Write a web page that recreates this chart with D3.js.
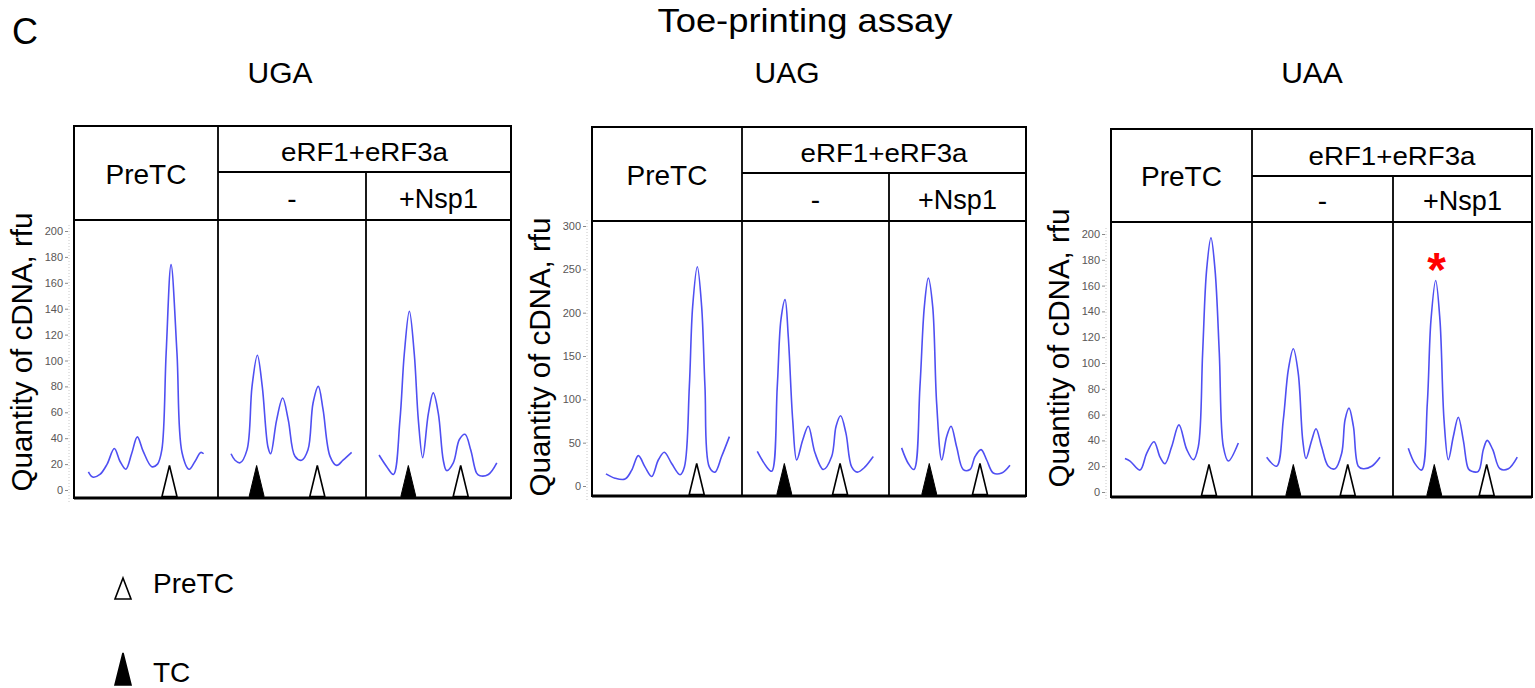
<!DOCTYPE html>
<html>
<head>
<meta charset="utf-8">
<script src="https://cdn.jsdelivr.net/npm/d3@7"></script>
<style>
  body { margin: 0; background: #fff; }
  text { font-family: "Liberation Sans", Arial, sans-serif; }
</style>
</head>
<body>
<div id="chart"></div>
<script>
// codons and lane headers
const codons = ["UGA", "UAG", "UAA"];
const laneLabels = ["PreTC", "-", "+Nsp1"];
const groupLabel = "eRF1+eRF3a";
const yMaxes = [200, 300, 200];
const yTickValues = [
  [0, 20, 40, 60, 80, 100, 120, 140, 160, 180, 200],
  [0, 50, 100, 150, 200, 250, 300],
  [0, 20, 40, 60, 80, 100, 120, 140, 160, 180, 200]
];

// traces: position along the lane (0-100) and quantity (rfu)
const ugaPos = [
  [10, 13, 18, 23, 28, 32, 36, 40, 44, 48, 54, 58, 61, 64, 67.4, 71.5, 75, 80, 84, 88, 90],
  [8.8, 11.5, 14.9, 19.6, 23, 26.6, 29.9, 33.8, 35.6, 39.6, 43.7, 47.5, 52, 56.5, 60.8, 64.2, 67.8, 71, 75.7, 80.2, 84.5, 90.3],
  [9, 14.3, 18.9, 23.4, 26.4, 29.9, 33.3, 36.1, 39.1, 43, 46.4, 49.9, 53.3, 55.6, 60.2, 64.4, 68.3, 72.2, 76.3, 78.6, 84.4, 90.2]
];
const ugaRfu = [
  [14, 10, 12, 20, 32, 22, 16, 28, 41, 30, 18, 20, 31, 106, 174, 106, 29, 16, 22, 29, 28],
  [28, 23, 21, 31, 80, 104, 80, 33, 28, 54, 71, 54, 26, 23, 31, 67, 80, 62, 26, 19, 23, 29],
  [27, 18, 12, 54, 105, 138, 105, 54, 25, 59, 75, 59, 23, 15, 21, 39, 43, 31, 13, 11, 12, 21]
];
const uagPos = [
  [9.3, 15.3, 22, 26.4, 30.9, 35.3, 39.8, 44.2, 48.2, 53.1, 58.7, 61.6, 64.9, 67.1, 70.2, 73.1, 75.3, 78.2, 82, 86.4, 91.6],
  [10.4, 16.8, 20.2, 24, 26.5, 29.3, 31.5, 34.5, 37.2, 41.3, 45.1, 49.7, 55.3, 61, 64, 67.1, 70.7, 74.6, 78.4, 83.7, 89.3],
  [9.2, 14.1, 18.2, 22.6, 25.8, 28.7, 31.9, 34.8, 38.5, 42.1, 45.3, 49.4, 54.2, 59.1, 62.8, 67.2, 71.3, 76.1, 82.3, 88.3]
];
const uagRfu = [
  [14, 9, 8, 18, 35, 22, 11, 30, 39, 26, 13, 22, 115, 207, 253, 207, 115, 22, 16, 34, 57],
  [40, 22, 17, 115, 192, 215, 172, 76, 30, 53, 69, 38, 19, 34, 69, 81, 61, 22, 16, 22, 34],
  [44, 26, 19, 115, 207, 240, 207, 95, 30, 57, 69, 45, 19, 19, 34, 42, 30, 15, 15, 24]
];
const uaaPos = [
  [9.9, 13.5, 20.6, 25.3, 30.5, 34.8, 38.3, 43, 48.2, 53.7, 58.4, 61.9, 65, 67.8, 70.9, 73.8, 76.8, 79.7, 83.2, 90.3],
  [10.4, 17.5, 22.2, 25.8, 29.3, 32.8, 36, 38.3, 42.3, 45.4, 49.4, 54.1, 58.9, 63.6, 66, 68.8, 71.9, 75.4, 78.9, 84.9, 90.8],
  [11, 15.8, 20.6, 24.7, 27.3, 30.7, 33.8, 36.7, 39.8, 43.4, 47, 50.6, 54.2, 56.6, 61.4, 65, 67.8, 71.7, 77, 83, 89.4]
];
const uaaRfu = [
  [26, 24, 17, 30, 39, 27, 22, 35, 52, 33, 25, 35, 108, 172, 197, 172, 108, 35, 24, 38],
  [27, 20, 56, 95, 111, 92, 40, 26, 40, 49, 35, 20, 18, 30, 56, 65, 51, 20, 18, 20, 27],
  [34, 22, 17, 69, 133, 164, 133, 56, 25, 43, 58, 40, 18, 16, 16, 33, 40, 33, 18, 18, 27]
];

// arrowheads: PreTC (open) and TC (filled) positions per lane
const preTCMarks = [[66.3, 67.1, 65.3], [69.8, 66.7, 66.4], [69.5, 67.9, 67.4]];
const tcMarks = [[null, 26.1, 29.2], [null, 28.8, 29.4], [null, 29.3, 29.7]];
const starredLane = [2, 2]; // codon index, lane index

const legendItems = ["PreTC", "TC"];

const tracePos = [ugaPos, uagPos, uaaPos];
const traceRfu = [ugaRfu, uagRfu, uaaRfu];

// frame geometry of the three panels
const frames = [
  { left: 74, right: 511, top: 126, sub: 172, head: 220, bottom: 498, cols: [74, 218, 366, 511], y0: 490, y1: 231, titleX: 280, yLabelY: 352 },
  { left: 592, right: 1026, top: 127, sub: 173, head: 221, bottom: 496, cols: [592, 742, 889, 1026], y0: 486, y1: 226, titleX: 787, yLabelY: 357 },
  { left: 1111, right: 1532, top: 129, sub: 176, head: 222, bottom: 497, cols: [1111, 1252, 1393, 1532], y0: 492, y1: 234, titleX: 1312, yLabelY: 348 }
];

const svg = d3.select("#chart").append("svg")
  .attr("width", 1535)
  .attr("height", 688);

svg.append("text")
  .attr("x", 805).attr("y", 32)
  .attr("text-anchor", "middle")
  .attr("font-size", 34)
  .attr("textLength", 295)
  .attr("lengthAdjust", "spacingAndGlyphs")
  .text("Toe-printing assay");

svg.append("text")
  .attr("x", 12).attr("y", 44)
  .attr("font-size", 36)
  .text("C");

function triangle(cx, base) {
  return `M${cx},${base - 31}L${cx + 7.5},${base}L${cx - 7.5},${base}Z`;
}

frames.forEach((f, i) => {
  const g = svg.append("g");

  const y = d3.scaleLinear().domain([0, yMaxes[i]]).range([f.y0, f.y1]);
  const lanes = d3.range(3).map(j =>
    d3.scaleLinear().domain([0, 100]).range([f.cols[j], f.cols[j + 1]]));

  // codon title
  g.append("text")
    .attr("x", f.titleX).attr("y", 83)
    .attr("text-anchor", "middle")
    .attr("font-size", 30)
    .text(codons[i]);

  // y title
  g.append("text")
    .attr("transform", `translate(${f.left - 42},${f.yLabelY}) rotate(-90)`)
    .attr("text-anchor", "middle")
    .attr("font-size", 30)
    .attr("textLength", 279)
    .attr("lengthAdjust", "spacingAndGlyphs")
    .text("Quantity of cDNA, rfu");

  // dotted axis line
  g.append("line")
    .attr("x1", f.left - 5).attr("x2", f.left - 5)
    .attr("y1", f.y1 - 6).attr("y2", f.bottom + 4)
    .attr("stroke", "#c8c8c8")
    .attr("stroke-dasharray", "1,2");

  const axis = g.append("g")
    .attr("transform", `translate(${f.left - 6},0)`)
    .call(d3.axisLeft(y).tickValues(yTickValues[i]).tickSize(3).tickPadding(2));
  axis.select(".domain").remove();
  axis.selectAll(".tick line").attr("stroke", "#8a8a8a");
  axis.selectAll(".tick text")
    .attr("fill", "#5a5656")
    .attr("font-size", 11)
    .style("font-family", "'Liberation Sans', Arial, sans-serif");

  // traces
  for (let j = 0; j < 3; j++) {
    const pts = tracePos[i][j].map((p, k) => [p, traceRfu[i][j][k]]);
    const line = d3.line()
      .x(d => lanes[j](d[0]))
      .y(d => y(d[1]))
      .curve(d3.curveCatmullRom.alpha(0.5));
    g.append("path")
      .datum(pts)
      .attr("d", line)
      .attr("fill", "none")
      .attr("stroke", "#4f4ff2")
      .attr("stroke-width", 1.6);

    // arrowheads
    const base = f.bottom - 1.5;
    if (tcMarks[i][j] != null) {
      g.append("path")
        .attr("d", triangle(lanes[j](tcMarks[i][j]), base))
        .attr("fill", "#000").attr("stroke", "#000").attr("stroke-width", 1);
    }
    g.append("path")
      .attr("d", triangle(lanes[j](preTCMarks[i][j]), base))
      .attr("fill", "#fff").attr("stroke", "#000").attr("stroke-width", 1.6);
  }

  // frame
  g.append("rect")
    .attr("x", f.left).attr("y", f.top)
    .attr("width", f.right - f.left).attr("height", f.bottom - f.top)
    .attr("fill", "none").attr("stroke", "#000").attr("stroke-width", 2);
  g.append("line")
    .attr("x1", f.left).attr("x2", f.right).attr("y1", f.bottom).attr("y2", f.bottom)
    .attr("stroke", "#000").attr("stroke-width", 3);
  g.append("line")
    .attr("x1", f.left).attr("x2", f.right).attr("y1", f.head).attr("y2", f.head)
    .attr("stroke", "#000").attr("stroke-width", 1.8);
  g.append("line")
    .attr("x1", f.cols[1]).attr("x2", f.right).attr("y1", f.sub).attr("y2", f.sub)
    .attr("stroke", "#000").attr("stroke-width", 1.8);
  g.append("line")
    .attr("x1", f.cols[1]).attr("x2", f.cols[1]).attr("y1", f.top).attr("y2", f.bottom)
    .attr("stroke", "#000").attr("stroke-width", 1.8);
  g.append("line")
    .attr("x1", f.cols[2]).attr("x2", f.cols[2]).attr("y1", f.sub).attr("y2", f.bottom)
    .attr("stroke", "#000").attr("stroke-width", 1.8);

  // headers
  g.append("text")
    .attr("x", (f.cols[0] + f.cols[1]) / 2).attr("y", f.head - 36)
    .attr("text-anchor", "middle").attr("font-size", 28)
    .text(laneLabels[0]);
  g.append("text")
    .attr("x", (f.cols[1] + f.right) / 2).attr("y", f.sub - 11)
    .attr("text-anchor", "middle").attr("font-size", 26)
    .attr("textLength", 167).attr("lengthAdjust", "spacingAndGlyphs")
    .text(groupLabel);
  g.append("text")
    .attr("x", (f.cols[1] + f.cols[2]) / 2).attr("y", f.head - 12)
    .attr("text-anchor", "middle").attr("font-size", 28)
    .text(laneLabels[1]);
  g.append("text")
    .attr("x", (f.cols[2] + f.cols[3]) / 2).attr("y", f.head - 12)
    .attr("text-anchor", "middle").attr("font-size", 27)
    .text(laneLabels[2]);

  // asterisk over the starred peak
  if (i === starredLane[0]) {
    const j = starredLane[1];
    const rfu = traceRfu[i][j];
    const k = rfu.indexOf(d3.max(rfu));
    g.append("text")
      .attr("x", lanes[j](tracePos[i][j][k]) + 1)
      .attr("y", y(rfu[k]) - 21 + 27)
      .attr("text-anchor", "middle")
      .attr("font-size", 48).attr("font-weight", "bold")
      .attr("fill", "#ff0000")
      .text("*");
  }
});

// legend
const legend = svg.append("g");
legendItems.forEach((name, k) => {
  const ly = k === 0 ? 599 : 685;
  const h = k === 0 ? 21 : 32;
  legend.append("path")
    .attr("d", `M123,${ly - h}L131,${ly}L115,${ly}Z`)
    .attr("fill", k === 0 ? "#fff" : "#000")
    .attr("stroke", "#000").attr("stroke-width", 1.6);
  legend.append("text")
    .attr("x", 153).attr("y", k === 0 ? 593 : 682)
    .attr("font-size", 28)
    .text(name);
});
</script>
</body>
</html>
